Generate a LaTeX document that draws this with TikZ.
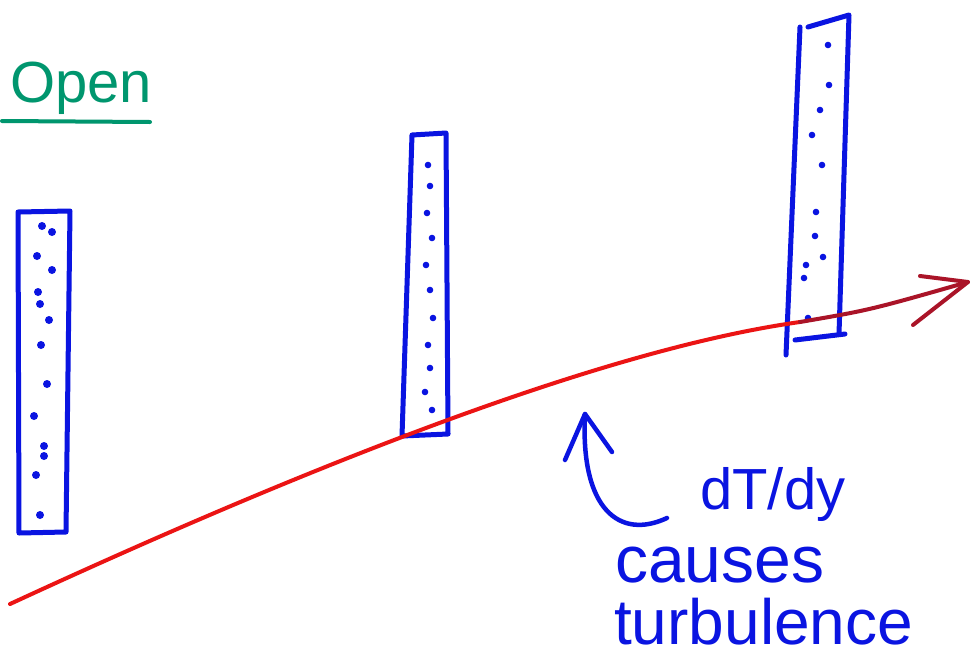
\documentclass[tikz,border=0pt]{standalone}
\usepackage{fontspec}
\setmainfont{Liberation Sans}
\definecolor{penblue}{RGB}{10,20,225}
\definecolor{pengreen}{RGB}{0,150,110}
\definecolor{penred}{RGB}{235,20,20}
\definecolor{pendark}{RGB}{170,20,40}
\begin{document}
\begin{tikzpicture}[x=1pt,y=-1pt,
  bar/.style={draw=penblue,line width=5pt,line join=round,line cap=round},
  speck/.style={fill=penblue},
  pen/.style={line width=4.5pt,line cap=round,line join=round},
  lbl/.style={text=penblue,inner sep=0pt,anchor=west}]
\useasboundingbox (0,0) rectangle (972,662);
\fill[white] (0,0) rectangle (972,662);
% Open
\node[text=pengreen,inner sep=0pt,anchor=west,font=\fontsize{58}{58}\selectfont] (open) at (10,88) {Open};
\draw[pengreen,line width=4pt,line cap=round] (2,121) coordinate (u1) -- (150,122) coordinate (u2);
% bars
\draw[bar] (18,212) coordinate (b1) -- (70,211) -- (66,532) -- (19,533) -- cycle;
\draw[bar] (412,135) coordinate (b2) -- (446,133) -- (448,434) -- (402,436) -- cycle;
\draw[bar] (808,27) coordinate (b3) -- (849,15) -- (839,334);
\draw[bar] (800,27) -- (786,355);
\draw[bar] (795,340) -- (845,334);
% specks
\foreach \p in {(42,226),(52,232),(37,256),(52,270),(38,292),(40,304),(49,320),(41,345),(47,384),(34,416),(44,446),(44,456),(36,475),(40,515)}
  \fill[speck] \p circle (4);
\foreach \p in {(428,165),(430,186),(427,213),(432,238),(426,265),(430,290),(433,318),(428,345),(430,368),(425,392),(432,410)}
  \fill[speck] \p circle (3.3);
\foreach \p in {(828,45),(829,85),(820,110),(812,135),(822,165),(816,212),(815,236),(823,257),(806,265),(804,278),(808,318)}
  \fill[speck] \p circle (3.3);
% red arrow
\coordinate (r0) at (10,604);
\coordinate (r1) at (968,282);
\draw[penred,line width=4pt,line cap=round] (r0) .. controls (300,470) and (600,350) .. (800,322);
\draw[pendark,line width=4pt,line cap=round] (800,322) .. controls (870,310) .. (r1);
\draw[pendark,line width=4pt,line cap=round,line join=round] (920,276) -- (r1) -- (913,325);
% labels
\node[lbl,font=\fontsize{58}{58}\selectfont] (dt) at (700,494) {dT/dy};
\node[lbl,font=\fontsize{66}{66}\selectfont] (causes) at (615,565) {causes};
\node[lbl,font=\fontsize{64}{64}\selectfont] (turb) at (614,622) {turbulence};
% curved arrow
\coordinate (c0) at (667,518);
\coordinate (c1) at (585,414);
\draw[penblue,pen] (c0) .. controls (620,540) and (580,510) .. (c1);
\draw[penblue,pen] (565,460) -- (c1) -- (612,452);
\end{tikzpicture}
\end{document}
